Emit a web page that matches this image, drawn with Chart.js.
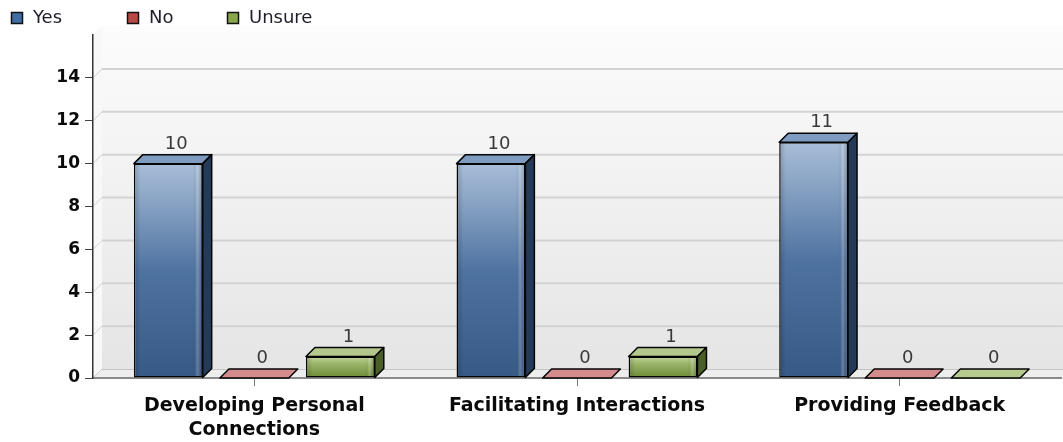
<!DOCTYPE html>
<html>
<head>
<meta charset="utf-8">
<script src="https://cdn.jsdelivr.net/npm/chart.js@4.4.0/dist/chart.umd.min.js"></script>
<style>
html,body{margin:0;padding:0;background:#fff;}
#wrap{width:1063px;height:442px;position:relative;}
</style>
</head>
<body>
<div id="wrap"><canvas id="c"></canvas></div>
<script>
// ---- data ----
const categories = [["Developing Personal", "Connections"], "Facilitating Interactions", "Providing Feedback"];
const seriesNames = ["Yes", "No", "Unsure"];
const yesValues = [10, 10, 11];
const noValues = [0, 0, 0];
const unsureValues = [1, 1, 0];
const yTickValues = [0, 2, 4, 6, 8, 10, 12, 14];
const yMax = 16;

// ---- styling ----
const DX = 9, DY = 9;
const FONT = "'DejaVu Sans', 'Liberation Sans', sans-serif";
const palette = {
  Yes: {
    front: [[0, '#a8bed9'], [0.12, '#93acca'], [0.5, '#4f73a1'], [1, '#365985']],
    top: '#7f9bc0', side: '#233a58', flat: '#7f9bc0', legend: '#416da5'
  },
  No: {
    front: [[0, '#e2aaa8'], [1, '#a8403c']],
    top: '#d08c8a', side: '#6a2320', flat: '#d38b8b', legend: '#b84a46'
  },
  Unsure: {
    front: [[0, '#c2d4a0'], [0.3, '#9fb86c'], [1, '#6a8934']],
    top: '#b4c88d', side: '#4a5e27', flat: '#b6ca90', legend: '#89a64b'
  }
};

function frontFill(name) {
  return (c) => {
    const chart = c.chart;
    if (c.type !== 'data' || !chart.chartArea || !c.parsed) return palette[name].legend;
    const ys = chart.scales.y;
    const top = ys.getPixelForValue(c.parsed.y);
    const base = ys.getPixelForValue(0);
    if (!isFinite(top) || base - top < 1) return palette[name].flat;
    const g = chart.ctx.createLinearGradient(0, top, 0, base);
    palette[name].front.forEach(s => g.addColorStop(s[0], s[1]));
    return g;
  };
}

const seriesValues = [yesValues, noValues, unsureValues];

const scene3d = {
  id: 'scene3d',
  beforeDraw(chart) {
    const { ctx, chartArea: a, scales: { y } } = chart;
    ctx.save();
    ctx.fillStyle = '#ffffff';
    ctx.fillRect(0, 0, chart.width, chart.height);
    const wl = a.left + DX, wt = a.top - DY, wr = chart.width, wb = a.bottom - DY;
    // back wall
    let g = ctx.createLinearGradient(0, wt, 0, wb);
    g.addColorStop(0, '#fcfcfc');
    g.addColorStop(1, '#e5e5e5');
    ctx.fillStyle = g;
    ctx.fillRect(wl, wt, wr - wl, wb - wt);
    // left wall
    ctx.beginPath();
    ctx.moveTo(a.left, a.top); ctx.lineTo(wl, wt); ctx.lineTo(wl, wb); ctx.lineTo(a.left, a.bottom);
    ctx.closePath();
    ctx.fillStyle = '#f8f8f8';
    ctx.fill();
    // floor
    ctx.beginPath();
    ctx.moveTo(a.left, a.bottom); ctx.lineTo(wl, wb); ctx.lineTo(wr, wb); ctx.lineTo(wr, a.bottom);
    ctx.closePath();
    ctx.fillStyle = '#ededed';
    ctx.fill();
    // grid lines on back wall + side wall
    yTickValues.forEach(v => {
      const py = y.getPixelForValue(v);
      if (v !== 0) {
        ctx.strokeStyle = '#d3d3d3';
        ctx.lineWidth = 2;
        ctx.beginPath(); ctx.moveTo(wl, py - DY); ctx.lineTo(wr, py - DY); ctx.stroke();
      }
      ctx.strokeStyle = '#d0d0d0';
      ctx.lineWidth = 1;
      ctx.beginPath(); ctx.moveTo(a.left, py); ctx.lineTo(wl, py - DY); ctx.stroke();
    });
    ctx.strokeStyle = '#c4c4c4';
    ctx.lineWidth = 1;
    ctx.beginPath(); ctx.moveTo(wl, wb + 0.5); ctx.lineTo(wr, wb + 0.5); ctx.stroke();
    ctx.restore();
  },
  afterDatasetsDraw(chart) {
    const { ctx } = chart;
    ctx.save();
    chart.data.datasets.forEach((ds, di) => {
      const meta = chart.getDatasetMeta(di);
      const pal = palette[ds.label];
      meta.data.forEach((el, i) => {
        const p = el.getProps(['x', 'y', 'base', 'width'], true);
        const left = p.x - p.width / 2, right = p.x + p.width / 2;
        const top = Math.min(p.y, p.base), base = Math.max(p.y, p.base);
        ctx.lineJoin = 'round';
        ctx.strokeStyle = '#050505';
        ctx.lineWidth = 1.5;
        if (base - top >= 1) {
          // bevel shading on the front face
          const hg = ctx.createLinearGradient(left, 0, right, 0);
          hg.addColorStop(0, 'rgba(0,0,0,0.18)');
          hg.addColorStop(0.1, 'rgba(0,0,0,0)');
          hg.addColorStop(0.86, 'rgba(0,0,0,0)');
          hg.addColorStop(0.92, 'rgba(255,255,255,0.22)');
          hg.addColorStop(1, 'rgba(0,0,0,0.2)');
          ctx.fillStyle = hg;
          ctx.fillRect(left + 1.5, top + 1.5, p.width - 3, base - top - 3);
          // top face
          ctx.beginPath();
          ctx.moveTo(left, top); ctx.lineTo(left + DX, top - DY);
          ctx.lineTo(right + DX, top - DY); ctx.lineTo(right, top);
          ctx.closePath();
          ctx.fillStyle = pal.top; ctx.fill(); ctx.stroke();
          // side face
          ctx.beginPath();
          ctx.moveTo(right, top); ctx.lineTo(right + DX, top - DY);
          ctx.lineTo(right + DX, base - DY); ctx.lineTo(right, base);
          ctx.closePath();
          ctx.fillStyle = pal.side; ctx.fill(); ctx.stroke();
        } else {
          ctx.beginPath();
          ctx.moveTo(left, base); ctx.lineTo(left + DX, base - DY);
          ctx.lineTo(right + DX, base - DY); ctx.lineTo(right, base);
          ctx.closePath();
          ctx.fillStyle = pal.flat; ctx.fill(); ctx.stroke();
        }
        // value label
        ctx.fillStyle = '#383838';
        ctx.font = '18px ' + FONT;
        ctx.textAlign = 'center';
        ctx.textBaseline = 'alphabetic';
        ctx.fillText(String(ds.data[i]), p.x + 8, top - DY - 6);
      });
    });
    ctx.restore();
  },
  afterDraw(chart) {
    const { ctx } = chart;
    ctx.save();
    const boxX = [11, 127, 227];
    seriesNames.forEach((name, i) => {
      ctx.fillStyle = palette[name].legend;
      ctx.fillRect(boxX[i], 12, 12, 12);
      ctx.strokeStyle = '#111';
      ctx.lineWidth = 1.5;
      ctx.strokeRect(boxX[i] + 0.5, 12.5, 11, 11);
      ctx.fillStyle = '#1e1e2a';
      ctx.font = '18px ' + FONT;
      ctx.textAlign = 'left';
      ctx.textBaseline = 'middle';
      ctx.fillText(name, boxX[i] + 22, 18.5);
    });
    ctx.restore();
  }
};

new Chart(document.getElementById('c'), {
  type: 'bar',
  data: {
    labels: categories,
    datasets: seriesNames.map((name, i) => ({
      label: name,
      data: seriesValues[i],
      backgroundColor: frontFill(name),
      borderColor: '#050505',
      borderWidth: (c) => (c.raw === 0 ? 0 : 1.5),
      borderSkipped: false,
      categoryPercentage: 0.8,
      barPercentage: 0.8
    }))
  },
  options: {
    responsive: true,
    maintainAspectRatio: false,
    animation: false,
    layout: { padding: { top: 35, left: 0, right: 2, bottom: 0 } },
    plugins: { legend: { display: false }, tooltip: { enabled: false } },
    scales: {
      x: {
        grid: { display: true, drawOnChartArea: false, drawTicks: true, tickLength: 8, tickColor: '#777', offset: false },
        border: { display: true, color: '#8a8a8a', width: 2 },
        ticks: {
          font: { family: FONT, weight: 'bold', size: 19, lineHeight: 1.25 },
          color: '#0a0a0a', padding: 8, maxRotation: 0, autoSkip: false
        },
        afterFit(s) { s.height = 64; }
      },
      y: {
        min: 0, max: yMax,
        grid: { display: true, drawOnChartArea: false, tickLength: 8, tickColor: '#444' },
        border: { display: true, color: '#333', width: 1.5 },
        ticks: { font: { family: FONT, weight: 'bold', size: 17 }, color: '#0a0a0a', padding: 5 },
        afterBuildTicks(s) { s.ticks = yTickValues.map(v => ({ value: v })); },
        afterFit(s) { s.width = 93; }
      }
    }
  },
  plugins: [scene3d]
});
</script>
</body>
</html>
